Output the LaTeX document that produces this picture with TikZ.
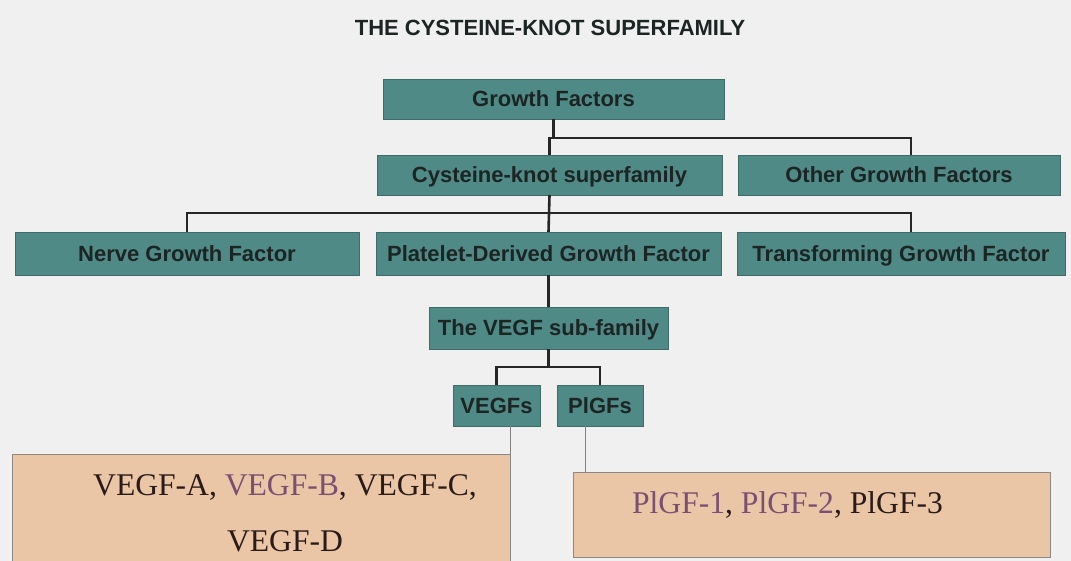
\documentclass[tikz,border=0pt]{standalone}
\usepackage{fontspec}
\setmainfont{Liberation Serif}
\setsansfont{Liberation Sans}
\definecolor{gfback}{RGB}{239,240,239}
\definecolor{gfteal}{RGB}{79,138,135}
\definecolor{gfedge}{RGB}{62,108,104}
\definecolor{gfink}{RGB}{28,36,36}
\definecolor{gftan}{RGB}{234,198,166}
\definecolor{gfgray}{RGB}{140,136,132}
\definecolor{gfplum}{RGB}{123,79,114}
\definecolor{gfdark}{RGB}{43,27,24}

\begin{document}
\begin{tikzpicture}[x=1pt,y=-1pt,
	gfbox/.style={draw=gfedge,fill=gfteal,text=gfink,inner sep=0pt,text height=16pt,text depth=0pt,font=\sffamily\bfseries\fontsize{22}{26}\selectfont},
	listbox/.style={draw=gfgray,fill=gftan,inner sep=0pt},
	listtext/.style={text=gfdark,inner sep=0pt,font=\fontsize{31.6}{56}\selectfont},
	bar/.style={line width=2.6pt,black!85},
	twig/.style={line width=0.8pt,gray}]
	\clip (0,0) rectangle (1071,561);
	\fill[gfback] (0,0) rectangle (1071,561);
	\node[anchor=base,text=gfink,font=\sffamily\bfseries\fontsize{22}{26}\selectfont] (title) at (550,36) {THE CYSTEINE-KNOT SUPERFAMILY};
	\node[gfbox,minimum width=341,minimum height=40] (gf) at (553.5,99) {Growth Factors};
	\node[gfbox,minimum width=345,minimum height=40] (cks) at (549.5,175) {Cysteine-knot superfamily};
	\node[gfbox,minimum width=322,minimum height=40] (ogf) at (899,175) {Other Growth Factors};
	\node[gfbox,minimum width=344,minimum height=43] (ngf) at (187,253.5) {Nerve Growth Factor};
	\node[gfbox,minimum width=345,minimum height=43] (pdgf) at (548.5,253.5) {Platelet-Derived Growth Factor};
	\node[gfbox,minimum width=328,minimum height=43] (tgf) at (901,253.5) {Transforming Growth Factor};
	\node[gfbox,minimum width=239,minimum height=42] (vsub) at (548.5,328) {The VEGF sub-family};
	\node[gfbox,minimum width=87,minimum height=41] (vegfs) at (496.5,405.5) {VEGFs};
	\node[gfbox,minimum width=86,minimum height=41] (plgfs) at (600,405.5) {PlGFs};
	\node[listbox,minimum width=498,minimum height=126] (vlist) at (261,517) {};
	\node[listbox,minimum width=477,minimum height=85] (plist) at (811.5,514.5) {};
	\node[listtext,align=center] (vtext) at (285,513.5) {VEGF-A, \textcolor{gfplum}{VEGF-B}, VEGF-C,\\VEGF-D};
	\node[listtext,anchor=base] (ptext) at (787.5,513) {\textcolor{gfplum}{PlGF-1}, \textcolor{gfplum}{PlGF-2}, PlGF-3};
	\coordinate (ja) at (548,138);
	\coordinate (jb) at (0,213);
	\coordinate (jc) at (0,367);
	\draw[bar] (gf.south) -- (gf.south |- ja);
	\draw[bar] (cks.north) |- ([xshift=12pt]ogf.north |- ja) -- ([xshift=12pt]ogf.north);
	\draw[bar] (ngf.north) |- ([xshift=10pt]tgf.north |- jb) -- ([xshift=10pt]tgf.north);
	\draw[bar] (cks.south) -- (pdgf.north);
	\draw[bar] (pdgf.south) -- (vsub.north);
	\draw[bar] (vsub.south) -- (vsub.south |- jc);
	\draw[bar] (vegfs.north) |- (plgfs.north |- jc) -- (plgfs.north);
	\draw[twig] (vegfs.south -| vlist.east) -- (vlist.north east);
	\draw[twig] ([xshift=-15pt]plgfs.south) -- ([xshift=-15pt]plgfs.south |- plist.north);
\end{tikzpicture}
\end{document}
